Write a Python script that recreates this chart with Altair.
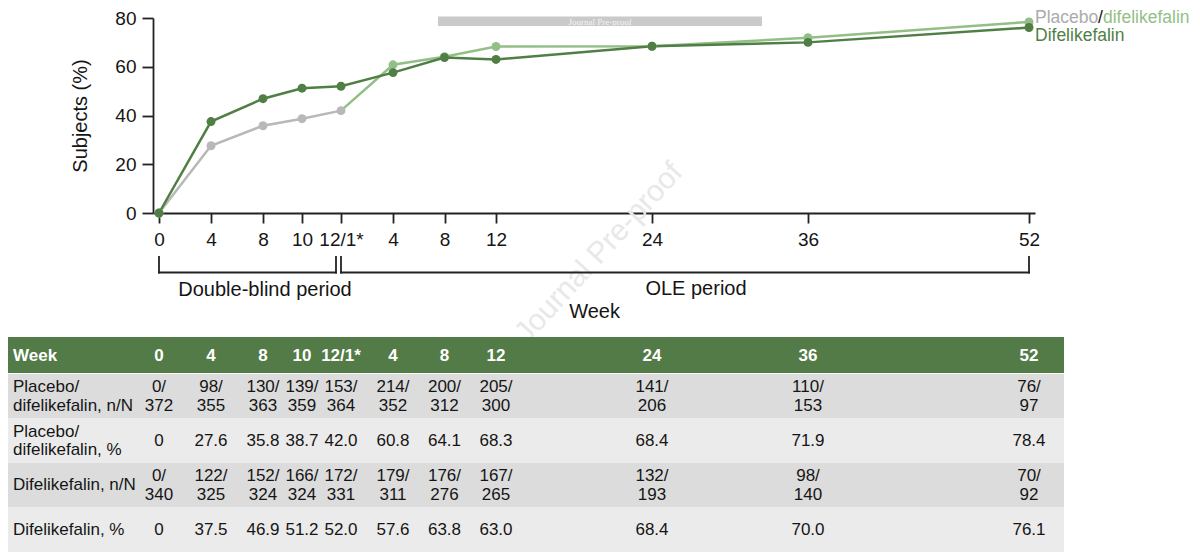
import altair as alt
import pandas as pd

# ---------------- data ----------------
week_labels = ["0", "4", "8", "10", "12/1*", "4", "8", "12", "24", "36", "52"]
db_weeks = [0, 4, 8, 10, 12]            # double-blind weeks
ole_weeks = [4, 8, 12, 24, 36, 52]      # OLE weeks (OLE week 1 == double-blind week 12)

pbo_pct = [0, 27.6, 35.8, 38.7, 42.0, 60.8, 64.1, 68.3, 68.4, 71.9, 78.4]
dif_pct = [0, 37.5, 46.9, 51.2, 52.0, 57.6, 63.8, 63.0, 68.4, 70.0, 76.1]
pbo_n = [0, 98, 130, 139, 153, 214, 200, 205, 141, 110, 76]
pbo_N = [372, 355, 363, 359, 364, 352, 312, 300, 206, 153, 97]
dif_n = [0, 122, 152, 166, 172, 179, 176, 167, 132, 98, 70]
dif_N = [340, 325, 324, 324, 331, 311, 276, 265, 193, 140, 92]

row_keys = ["pbo_n", "pbo_pct", "dif_n", "dif_pct"]
row_labels = ["Placebo/\ndifelikefalin, n/N", "Placebo/\ndifelikefalin, %",
              "Difelikefalin, n/N", "Difelikefalin, %"]

# study timeline in weeks since double-blind baseline
t_vals = db_weeks + [w + 11 for w in ole_weeks]

# ---------------- styles ----------------
FONT = "Liberation Sans"
TXT = "#151515"
AX = "#222222"
GRAY = "#b8b8b8"
LGREEN = "#93bf87"
DGREEN = "#4f7f45"
HEAD = "#537b48"
ROW_DARK = "#dcdcdc"
ROW_LIGHT = "#ebebeb"

PW, PH = 882, 195

# broken (piecewise) week axis as in the original figure
x_scale = alt.Scale(domain=[-0.5, 0, 8, 12, 15, 23, 47, 63, 63.5],
                    range=[0, 6, 110, 188, 240, 343, 655, 876, PW],
                    zero=False, nice=False)
y_scale = alt.Scale(domain=[0, 80], zero=False, nice=False)

label_expr = f"{week_labels}[indexof({t_vals}, datum.value)]"

x_axis = alt.Axis(values=t_vals, labelExpr=label_expr, title="Week", grid=False,
                  tickSize=10, tickWidth=1.8, tickColor=AX, domainWidth=1.8,
                  domainColor=AX, labelFontSize=19, labelFont=FONT, labelColor=TXT,
                  labelPadding=7, labelFlush=False, labelOverlap=False,
                  titleFontSize=20, titleFont=FONT, titleFontWeight="normal",
                  titleColor=TXT, titlePadding=52)
y_axis = alt.Axis(values=[0, 20, 40, 60, 80], title="Subjects (%)", grid=False,
                  tickSize=11, tickWidth=1.8, tickColor=AX, domainWidth=1.8,
                  domainColor=AX, labelFontSize=19, labelFont=FONT, labelColor=TXT,
                  labelPadding=6, titleFontSize=20, titleFont=FONT,
                  titleFontWeight="normal", titleColor=TXT, titlePadding=24)

color_scale = alt.Scale(domain=["pbo_db", "pbo_ole", "dif"], range=[GRAY, LGREEN, DGREEN])


def rows_for(values, name, idx):
    return [{"t": t_vals[i], "value": values[i], "series": name} for i in idx]


line_pbo = pd.DataFrame(rows_for(pbo_pct, "pbo_db", range(0, 5)) +
                        rows_for(pbo_pct, "pbo_ole", range(4, 11)))
line_dif = pd.DataFrame(rows_for(dif_pct, "dif", range(11)))
pts_pbo = pd.DataFrame(rows_for(pbo_pct, "pbo_db", range(0, 5)) +
                       rows_for(pbo_pct, "pbo_ole", range(5, 11)))
pts_dif = line_dif


def XQ(field):
    return alt.X(field, scale=x_scale, axis=x_axis)


X = XQ("t:Q")
Y = alt.Y("value:Q", scale=y_scale, axis=y_axis)
C = alt.Color("series:N", scale=color_scale, legend=None)

l_pbo = alt.Chart(line_pbo).mark_line(strokeWidth=2.5).encode(x=X, y=Y, color=C, order="t:Q")
l_dif = alt.Chart(line_dif).mark_line(strokeWidth=2.5).encode(x=X, y=Y, color=C, order="t:Q")
p_pbo = alt.Chart(pts_pbo).mark_circle(size=80, opacity=1).encode(x=X, y=Y, color=C)
p_dif = alt.Chart(pts_dif).mark_circle(size=80, opacity=1).encode(x=X, y=Y, color=C)

last_t = t_vals[-1]
lg_base_p = alt.Chart(pts_pbo).transform_filter(alt.datum.t == last_t)
lg_base_d = alt.Chart(pts_dif).transform_filter(alt.datum.t == last_t)
lg_kw = dict(font=FONT, fontSize=17.5, align="left", baseline="middle")
lg1 = lg_base_p.mark_text(color="#ababab", dx=6, dy=-3.5, **lg_kw).encode(x=X, y=Y, text=alt.value("Placebo"))
lg2 = lg_base_p.mark_text(color="#111111", dx=69, dy=-3.5, **lg_kw).encode(x=X, y=Y, text=alt.value("/"))
lg3 = lg_base_p.mark_text(color=LGREEN, dx=74, dy=-3.5, **lg_kw).encode(x=X, y=Y, text=alt.value("difelikefalin"))
lg4 = lg_base_d.mark_text(color=DGREEN, dx=6, dy=8.5, **lg_kw).encode(x=X, y=Y, text=alt.value("Difelikefalin"))

chart_group = alt.layer(l_pbo, l_dif, p_pbo, p_dif, lg1, lg2, lg3, lg4)


# ---------------- period brackets ----------------
def bracket(start, end, end_off):
    df = pd.DataFrame({"start": [start], "end": [end]})
    base = alt.Chart(df)
    kw = dict(color=AX, strokeWidth=1.8, strokeCap="square")
    h = base.mark_rule(x2Offset=end_off, **kw).encode(
        x=XQ("start:Q"), x2="end:Q", y=alt.value(254.5))
    lft = base.mark_rule(**kw).encode(
        x=XQ("start:Q"), y=alt.value(239), y2=alt.value(254.5))
    rgt = base.mark_rule(xOffset=end_off, **kw).encode(
        x=XQ("end:Q"), y=alt.value(239), y2=alt.value(254.5))
    return [h, lft, rgt]


one = pd.DataFrame({"k": [0]})
per_kw = dict(font=FONT, fontSize=20, color=TXT, align="center", baseline="middle")
db_lab = alt.Chart(one).mark_text(**per_kw).encode(
    x=alt.value(112), y=alt.value(272), text=alt.value("Double-blind period"))
ole_lab = alt.Chart(one).mark_text(**per_kw).encode(
    x=alt.value(543), y=alt.value(271), text=alt.value("OLE period"))

# ---------------- watermark decorations ----------------
wm = alt.Chart(one).mark_text(font=FONT, fontSize=30, color="#e8e8e8", angle=312.5,
                              align="center", baseline="middle").encode(
    x=alt.value(446), y=alt.value(235), text=alt.value("Journal Pre-proof"))
bar = alt.Chart(one).mark_rect(color="#cacaca").encode(
    x=alt.value(285), x2=alt.value(609), y=alt.value(-1.5), y2=alt.value(8))
bar_txt = alt.Chart(one).mark_text(font="Liberation Serif", fontSize=9, color="#f4f4f4",
                                   align="center", baseline="middle").encode(
    x=alt.value(447), y=alt.value(3.5), text=alt.value("Journal Pre-proof"))

# ---------------- table ----------------
TX0, TX1 = -145, 911
head_rect = alt.Chart(one).mark_rect(color=HEAD).encode(
    x=alt.value(TX0), x2=alt.value(TX1), y=alt.value(319), y2=alt.value(355))
head_kw = dict(font=FONT, fontSize=17, fontWeight="bold", color="white", baseline="middle")
head_week = alt.Chart(one).mark_text(align="left", **head_kw).encode(
    x=alt.value(-140), y=alt.value(338), text=alt.value("Week"))
head_df = pd.DataFrame({"t": t_vals, "label": week_labels})
head_cols = alt.Chart(head_df).mark_text(align="center", **head_kw).encode(
    x=X, y=alt.value(338), text="label:N")


def pct_txt(v):
    return "0" if v == 0 else f"{v:.1f}"


cells = []
for i, t in enumerate(t_vals):
    cells.append({"t": t, "row": "pbo_n", "text": f"{pbo_n[i]}/\n{pbo_N[i]}"})
    cells.append({"t": t, "row": "pbo_pct", "text": pct_txt(pbo_pct[i])})
    cells.append({"t": t, "row": "dif_n", "text": f"{dif_n[i]}/\n{dif_N[i]}"})
    cells.append({"t": t, "row": "dif_pct", "text": pct_txt(dif_pct[i])})
cell_df = pd.DataFrame(cells)
cell_df["lines"] = cell_df["text"].str.count("\n") + 1
row_df = pd.DataFrame({"row": row_keys, "label": row_labels})
row_df["lines"] = row_df["label"].str.count("\n") + 1

row_scale = alt.Scale(domain=row_keys, range=[356, 534], paddingInner=0, paddingOuter=0)
RY = alt.Y("row:N", scale=row_scale, axis=None)

rect_dark = alt.Chart(row_df).transform_filter(
    alt.FieldOneOfPredicate(field="row", oneOf=["pbo_n", "dif_n"])).mark_rect(color=ROW_DARK).encode(
    x=alt.value(TX0), x2=alt.value(TX1), y=RY)
rect_light = alt.Chart(row_df).transform_filter(
    alt.FieldOneOfPredicate(field="row", oneOf=["pbo_pct", "dif_pct"])).mark_rect(color=ROW_LIGHT).encode(
    x=alt.value(TX0), x2=alt.value(TX1), y=RY)

LH = 18.5
tkw = dict(font=FONT, fontSize=17, color=TXT, baseline="middle", lineBreak="\n", lineHeight=LH)
cell1 = alt.Chart(cell_df).transform_filter(alt.datum.lines == 1).mark_text(
    align="center", **tkw).encode(x=X, y=RY, text="text:N")
cell2 = alt.Chart(cell_df).transform_filter(alt.datum.lines == 2).mark_text(
    align="center", dy=-LH / 2, **tkw).encode(x=X, y=RY, text="text:N")
lab1 = alt.Chart(row_df).transform_filter(alt.datum.lines == 1).mark_text(
    align="left", **tkw).encode(x=alt.value(-140), y=RY, text="label:N")
lab2 = alt.Chart(row_df).transform_filter(alt.datum.lines == 2).mark_text(
    align="left", dy=-LH / 2, **tkw).encode(x=alt.value(-140), y=RY, text="label:N")

table_group = alt.layer(rect_dark, rect_light, cell1, cell2, lab1, lab2)

chart = alt.layer(
    wm, bar, bar_txt, chart_group,
    *bracket(0, 12, -5), *bracket(12, 63, 0),
    db_lab, ole_lab,
    head_rect, head_week, head_cols, table_group,
).resolve_scale(y="independent").properties(
    width=PW, height=PH,
    padding={"left": 145, "top": 10, "right": 157, "bottom": 339},
    autosize=alt.AutoSizeParams(type="none"),
).configure(font=FONT).configure_view(stroke=None)

chart.save("out.html", embed_options={"renderer": "svg", "actions": False})
